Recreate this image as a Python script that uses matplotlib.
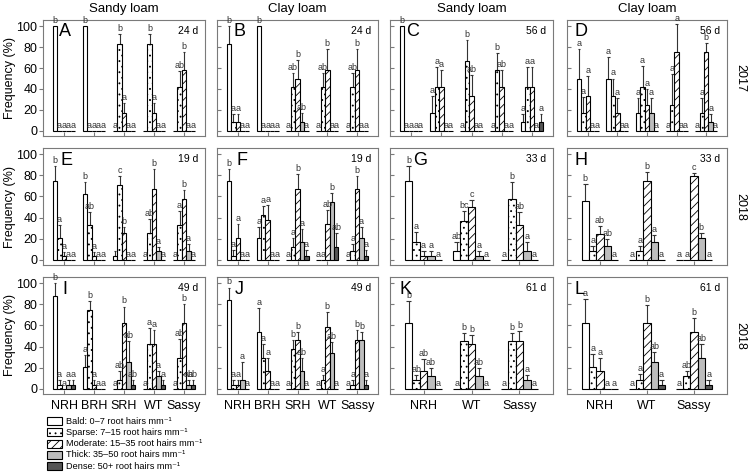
import numpy as np
import matplotlib
matplotlib.use("Agg")
import matplotlib.pyplot as plt
from matplotlib.patches import Rectangle

plt.rcParams['font.family'] = ['Liberation Sans', 'DejaVu Sans']
plt.rcParams['hatch.linewidth'] = 0.6

# root hair classes
classes = ["Bald: 0\u20137 root hairs mm\u207b\u00b9",
           "Sparse: 7\u201315 root hairs mm\u207b\u00b9",
           "Moderate: 15\u201335 root hairs mm\u207b\u00b9",
           "Thick: 35\u201350 root hairs mm\u207b\u00b9",
           "Dense: 50+ root hairs mm\u207b\u00b9"]
geno5 = ["NRH", "BRH", "SRH", "WT", "Sassy"]
geno3 = ["NRH", "WT", "Sassy"]
soils = ["Sandy loam", "Clay loam", "Sandy loam", "Clay loam"]
years = ["2017", "2018", "2018"]

# each row: one genotype, values for bald, sparse, moderate, thick, dense
A_mean = [[100, 0, 0, 0, 0], [100, 0, 0, 0, 0], [0, 83, 17, 0, 0], [0, 83, 17, 0, 0], [0, 42, 58, 0, 0]]
A_err = [[0, 0, 0, 0, 0], [0, 0, 0, 0, 0], [0, 10, 10, 0, 0], [0, 10, 10, 0, 0], [0, 15, 17, 0, 0]]
A_let = [["b", "a", "a", "a", "a"], ["b", "a", "a", "a", "a"], ["a", "b", "a", "a", "a"],
         ["", "b", "a", "a", "a"], ["", "ab", "b", "a", "a"]]

B_mean = [[83, 8, 8, 0, 0], [100, 0, 0, 0, 0], [0, 42, 50, 8, 0], [0, 42, 58, 0, 0], [0, 42, 58, 0, 0]]
B_err = [[17, 8, 8, 0, 0], [0, 0, 0, 0, 0], [0, 13, 18, 9, 0], [0, 13, 20, 0, 0], [0, 13, 20, 0, 0]]
B_let = [["b", "a", "a", "a", "a"], ["b", "a", "a", "a", "a"], ["a", "ab", "b", "ab", "a"],
         ["a", "ab", "b", "a", "a"], ["a", "ab", "b", "a", "a"]]

C_mean = [[100, 0, 0, 0, 0], [17, 42, 42, 0, 0], [0, 67, 33, 0, 0], [0, 58, 42, 0, 0], [8, 42, 42, 0, 8]]
C_err = [[0, 0, 0, 0, 0], [16, 19, 16, 0, 0], [0, 20, 20, 0, 0], [0, 16, 16, 0, 0], [8, 19, 19, 0, 8]]
C_let = [["b", "a", "a", "a", "a"], ["a", "a", "a", "a", "a"], ["a", "b", "ab", "a", "a"],
         ["a", "b", "ab", "a", "a"], ["a", "a", "a", "a", "a"]]

D_mean = [[50, 17, 33, 0, 0], [50, 33, 17, 0, 0], [17, 42, 25, 17, 0], [0, 25, 75, 0, 0], [0, 17, 75, 8, 0]]
D_err = [[28, 15, 19, 0, 0], [21, 17, 14, 0, 0], [14, 20, 15, 14, 0], [0, 29, 27, 0, 0], [0, 14, 9, 8, 0]]
D_let = [["a", "a", "a", "a", "a"], ["a", "a", "a", "a", "a"], ["a", "a", "a", "a", "a"],
         ["a", "a", "a", "a", "a"], ["a", "a", "b", "a", "a"]]

E_mean = [[75, 21, 4, 0, 0], [62, 33, 4, 0, 0], [4, 71, 25, 0, 0], [0, 25, 67, 8, 0], [0, 33, 58, 8, 0]]
E_err = [[14, 12, 3, 0, 0], [12, 12, 3, 0, 0], [4, 8, 6, 0, 0], [0, 14, 19, 4, 0], [0, 13, 8, 7, 0]]
E_let = [["b", "a", "a", "a", "a"], ["b", "ab", "a", "a", "a"], ["", "c", "b", "a", "a"],
         ["a", "ab", "b", "a", "a"], ["a", "a", "b", "a", "a"]]

F_mean = [[75, 4, 21, 0, 0], [21, 42, 38, 0, 0], [0, 12, 67, 17, 4], [0, 0, 34, 55, 12], [0, 8, 67, 21, 4]]
F_err = [[11, 5, 13, 0, 0], [10, 9, 14, 0, 0], [0, 9, 14, 12, 5], [0, 0, 13, 8, 13], [0, 7, 12, 10, 5]]
F_let = [["b", "a", "a", "a", "a"], ["a", "a", "a", "a", "a"], ["a", "a", "b", "a", "a"],
         ["a", "a", "ab", "b", "ab"], ["a", "a", "b", "a", "a"]]

G_mean = [[75, 17, 4, 4, 0], [8, 37, 50, 4, 0], [0, 58, 33, 8, 0]]
G_err = [[14, 9, 4, 4, 0], [9, 9, 7, 4, 0], [0, 16, 12, 9, 0]]
G_let = [["b", "a", "a", "a", "a"], ["ab", "bc", "c", "a", "a"], ["a", "b", "ab", "a", "a"]]

H_mean = [[56, 8, 24, 13, 0], [0, 8, 75, 17, 0], [0, 0, 79, 21, 0]]
H_err = [[16, 5, 8, 7, 0], [0, 5, 8, 6, 0], [0, 0, 3, 4, 0]]
H_let = [["b", "a", "ab", "ab", "a"], ["a", "a", "b", "a", "a"], ["a", "a", "c", "b", "a"]]

I_mean = [[88, 4, 0, 4, 4], [21, 75, 4, 0, 0], [0, 8, 62, 25, 4], [0, 42, 42, 12, 4], [0, 29, 62, 4, 4]]
I_err = [[12, 4, 0, 4, 4], [11, 8, 4, 0, 0], [0, 9, 16, 20, 4], [0, 16, 14, 5, 4], [0, 18, 18, 4, 4]]
I_let = [["b", "a", "a", "a", "a"], ["a", "b", "a", "a", "a"], ["a", "ab", "b", "ab", "ab"],
         ["a", "a", "a", "a", "a"], ["a", "ab", "b", "ab", "ab"]]

J_mean = [[84, 4, 4, 8, 0], [54, 29, 17, 0, 0], [0, 38, 46, 17, 0], [0, 8, 59, 34, 0], [0, 4, 46, 46, 4]]
J_err = [[12, 4, 4, 17, 0], [23, 13, 12, 0, 0], [0, 8, 8, 12, 0], [0, 5, 14, 10, 0], [0, 4, 10, 8, 4]]
J_let = [["b", "a", "a", "a", "a"], ["a", "a", "a", "a", "a"], ["a", "b", "b", "ab", "a"],
         ["a", "a", "b", "ab", "a"], ["a", "a", "b", "b", "a"]]

K_mean = [[62, 8, 17, 12, 0], [0, 45, 42, 12, 0], [0, 45, 45, 8, 0]]
K_err = [[21, 5, 11, 8, 0], [0, 8, 9, 8, 0], [0, 8, 10, 5, 0]]
K_let = [["b", "ab", "ab", "ab", "a"], ["a", "b", "b", "ab", "a"], ["a", "b", "b", "a", "a"]]

L_mean = [[62, 21, 17, 0, 0], [0, 8, 62, 25, 4], [0, 12, 54, 29, 4]]
L_err = [[23, 12, 12, 0, 0], [0, 6, 17, 10, 4], [0, 5, 13, 13, 4]]
L_let = [["a", "a", "a", "a", "a"], ["a", "a", "b", "ab", "a"], ["a", "ab", "b", "ab", "a"]]

days = ["24 d", "24 d", "56 d", "56 d",
        "19 d", "19 d", "33 d", "33 d",
        "49 d", "49 d", "61 d", "61 d"]

panels = [("A", A_mean, A_err, A_let, geno5), ("B", B_mean, B_err, B_let, geno5),
          ("C", C_mean, C_err, C_let, geno5), ("D", D_mean, D_err, D_let, geno5),
          ("E", E_mean, E_err, E_let, geno5), ("F", F_mean, F_err, F_let, geno5),
          ("G", G_mean, G_err, G_let, geno3), ("H", H_mean, H_err, H_let, geno3),
          ("I", I_mean, I_err, I_let, geno5), ("J", J_mean, J_err, J_let, geno5),
          ("K", K_mean, K_err, K_let, geno3), ("L", L_mean, L_err, L_let, geno3)]

# styling of the five classes
fills = ["white", "white", "white", "#bdbdbd", "#555555"]
hatches = [None, "...", "////", None, None]

# panel letter x-position (axes fraction)
letter_x = [0.10, 0.10, 0.10, 0.05, 0.11, 0.12, 0.14, 0.05, 0.12, 0.11, 0.06, 0.05]

W, H = 748, 473
cols_px = [(43, 205), (217, 378), (390, 553), (567, 727)]
rows_px = [(20, 136), (148, 265), (277, 394)]

fig = plt.figure(figsize=(W / 100, H / 100), dpi=100)
gray = "#7a7a7a"

for ip, (plabel, mean, err, lets, genos) in enumerate(panels):
    irow, icol = divmod(ip, 4)
    l, r = cols_px[icol]
    t, b = rows_px[irow]
    ax = fig.add_axes([l / W, 1 - b / H, (r - l) / W, (b - t) / H])

    mean = np.array(mean, dtype=float)
    err = np.array(err, dtype=float)
    ng = len(genos)
    w = 0.15 if ng == 5 else 0.155
    xg = np.arange(1, ng + 1)

    for k in range(5):
        xs = xg + (k - 2) * w
        ax.bar(xs, mean[:, k], width=w, color=fills[k], edgecolor="black",
               linewidth=0.8, hatch=hatches[k], zorder=2)
        has = err[:, k] > 0
        ax.vlines(xs[has], mean[has, k], mean[has, k] + err[has, k],
                  color="#333333", linewidth=0.8, zorder=1)
        ax.hlines(mean[has, k] + err[has, k], xs[has] - 0.3 * w, xs[has] + 0.3 * w,
                  color="#333333", linewidth=0.8, zorder=1)
        for ig in range(ng):
            top = mean[ig, k] + err[ig, k]
            ax.text(xs[ig], top + 1.0, lets[ig][k], ha="center", va="bottom",
                    fontsize=6.5, color="#333333")

    ax.set_xlim(0.3, ng + 0.7)
    ax.set_ylim(-5, 106)
    ax.set_yticks(np.arange(0, 101, 20))
    ax.set_xticks(xg)
    for sp in ax.spines.values():
        sp.set_color(gray)
        sp.set_linewidth(0.8)
    ax.tick_params(axis="x", direction="in", length=3, color=gray,
                   labelsize=9, pad=4, labelbottom=(irow == 2))
    if irow == 2:
        ax.set_xticklabels(genos)
    if icol == 0:
        ax.tick_params(axis="y", direction="out", length=3, color=gray,
                       labelsize=9, pad=1)
        ax.set_ylabel("Frequency (%)", fontsize=9, labelpad=0.5)
    else:
        ax.tick_params(axis="y", direction="in", length=3, color=gray,
                       labelleft=False)

    ax.text(letter_x[ip], 0.97, plabel, transform=ax.transAxes,
            ha="left", va="top", fontsize=13)
    ax.text(0.96, 0.95, days[ip], transform=ax.transAxes,
            ha="right", va="top", fontsize=7.5)

# column titles
for icol, soil in enumerate(soils):
    l, r = cols_px[icol]
    fig.text((l + r) / 2 / W, 1 - 9 / H, soil, ha="center", va="center", fontsize=9.5)

# year labels on the right
for irow, yr in enumerate(years):
    t, b = rows_px[irow]
    fig.text(740 / W, 1 - (t + b) / 2 / H, yr, rotation=270,
             ha="center", va="center", fontsize=9)

# legend drawn by hand so the rows stay tight
for k, lab in enumerate(classes):
    yc = 421 + k * 11.3
    fig.add_artist(Rectangle((47 / W, 1 - (yc + 4) / H), 15 / W, 8 / H,
                             transform=fig.transFigure, facecolor=fills[k],
                             edgecolor="black", linewidth=0.8, hatch=hatches[k]))
    fig.text(66 / W, 1 - yc / H, lab, ha="left", va="center", fontsize=6.6)

fig.savefig("out.png", dpi=100)
